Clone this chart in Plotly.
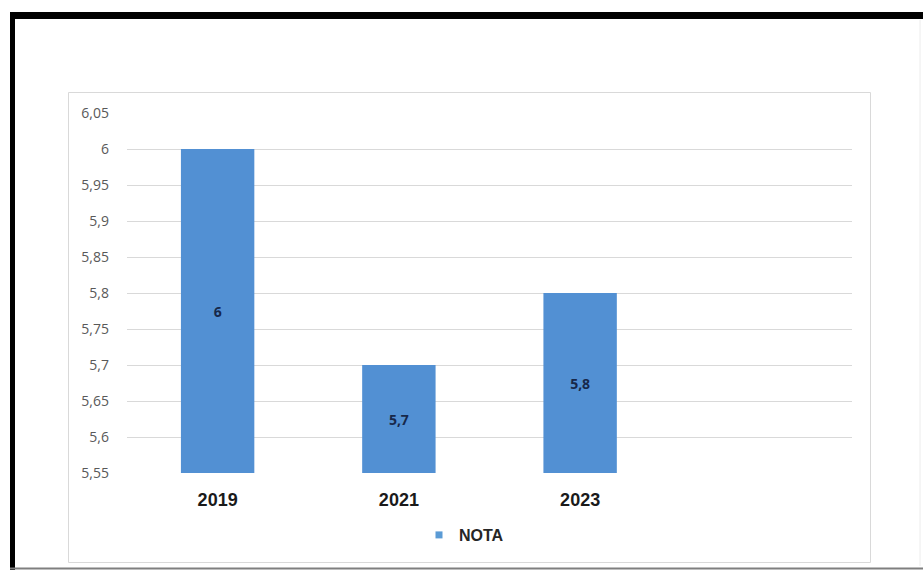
import plotly.graph_objects as go

# IDEB scores per edition
years = ["2019", "2021", "2023", ""]
nota = [6.0, 5.7, 5.8, None]
value_labels = ["6", "5,7", "5,8", ""]

y_floor = 5.55
y_ticks = [5.55, 5.6, 5.65, 5.7, 5.75, 5.8, 5.85, 5.9, 5.95, 6.0, 6.05]
y_tick_labels = ["5,55", "5,6", "5,65", "5,7", "5,75", "5,8", "5,85", "5,9", "5,95", "6", "6,05"]

W, H = 923, 570
ML, MR, MT, MB = 127, 71, 113, 97
PW, PH = W - ML - MR, H - MT - MB


def px_x(p):
    return (p - ML) / PW


def px_y(p):
    return (H - MB - p) / PH


# bars start at the axis floor so the value labels sit centred in the visible part
bar_len = [None if v is None else v - y_floor for v in nota]

fig = go.Figure()
fig.add_trace(go.Bar(
    x=years,
    y=bar_len,
    base=y_floor,
    customdata=nota,
    hovertemplate="%{x}: %{customdata}<extra></extra>",
    name="NOTA",
    width=0.405,
    marker=dict(color="#5290d3", line=dict(width=0)),
    text=value_labels,
    textposition="inside",
    insidetextanchor="middle",
    textangle=0,
    textfont=dict(family="Open Sans, sans-serif", size=14, color="#17284a",
                  weight="bold"),
    showlegend=False,
))

# legend entry with a small square swatch
fig.add_trace(go.Scatter(
    x=[None], y=[None], mode="markers", name="NOTA",
    marker=dict(symbol="square", size=7, color="#5b9bd5"),
    showlegend=True,
))

shapes = [
    # outer page frame
    dict(type="rect", xref="paper", yref="paper",
         x0=px_x(10), x1=px_x(W + 5), y0=px_y(19), y1=px_y(12),
         fillcolor="black", line=dict(width=0), layer="above"),
    dict(type="rect", xref="paper", yref="paper",
         x0=px_x(10), x1=px_x(15), y0=px_y(H + 5), y1=px_y(12),
         fillcolor="black", line=dict(width=0), layer="above"),
    dict(type="line", xref="paper", yref="paper",
         x0=px_x(10), x1=px_x(W + 5), y0=px_y(568.5), y1=px_y(568.5),
         line=dict(color="#7f7f7f", width=2)),
    dict(type="line", xref="paper", yref="paper",
         x0=px_x(920), x1=px_x(920), y0=px_y(566), y1=px_y(20),
         line=dict(color="#ececec", width=1)),
    # chart area frame
    dict(type="rect", xref="paper", yref="paper",
         x0=px_x(68.5), x1=px_x(870.5), y0=px_y(562.5), y1=px_y(92.5),
         line=dict(color="#d9d9d9", width=1), fillcolor="rgba(0,0,0,0)",
         layer="below"),
]

fig.update_layout(
    width=W, height=H,
    margin=dict(l=ML, r=MR, t=MT, b=MB, pad=0),
    paper_bgcolor="white",
    plot_bgcolor="white",
    separators=",.",
    shapes=shapes,
    showlegend=True,
    legend=dict(
        orientation="h",
        x=px_x(464), xanchor="center",
        y=px_y(535), yanchor="middle",
        font=dict(family="Liberation Sans, Arial, sans-serif", size=16, color="#262626",
                  weight="bold"),
        itemwidth=30,
        bgcolor="rgba(0,0,0,0)",
    ),
    xaxis=dict(
        type="category",
        range=[-0.5, 3.5],
        showgrid=False,
        showline=False,
        ticks="",
        tickfont=dict(family="Liberation Sans, Arial, sans-serif", size=18,
                      color="#1a1a1a", weight="bold"),
        ticklabelstandoff=14,
    ),
    yaxis=dict(
        range=[y_floor, 6.05],
        tickvals=y_ticks,
        ticktext=y_tick_labels,
        showgrid=True,
        gridcolor="#d9d9d9",
        gridwidth=1,
        zeroline=False,
        showline=False,
        ticks="",
        ticklabelstandoff=17,
        tickfont=dict(family="Open Sans, sans-serif", size=14, color="#595959"),
    ),
)

fig.write_html("out.html")
